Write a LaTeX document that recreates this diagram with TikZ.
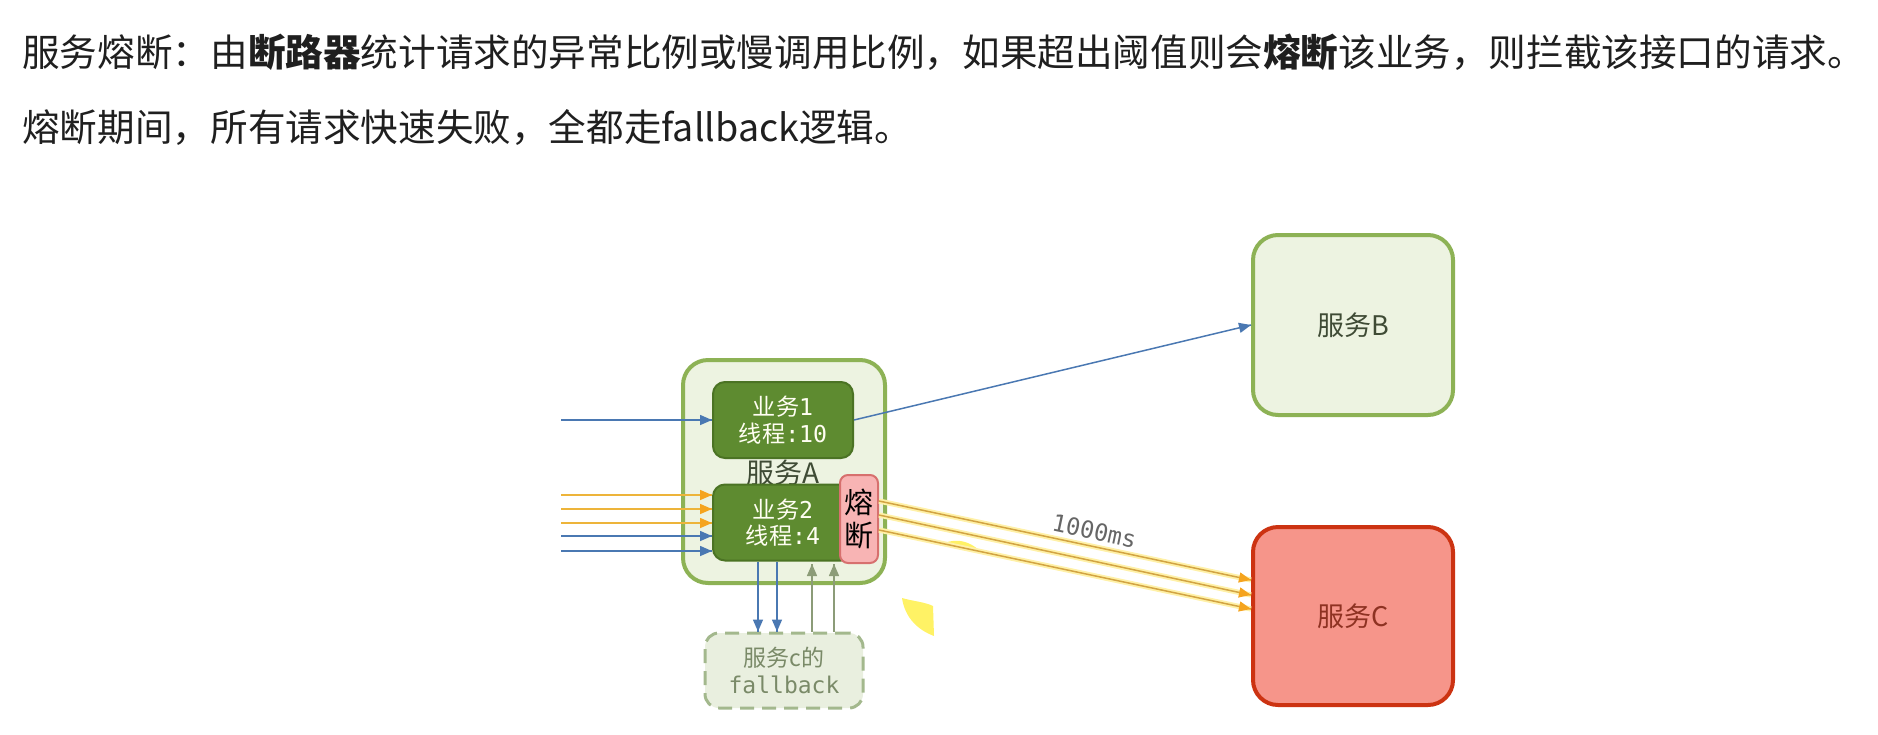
\documentclass[tikz,border=0pt]{standalone}
\usepackage{fontspec}
\setmainfont{Noto Sans CJK SC}
\setmonofont{DejaVu Sans Mono}
\usepackage{tikz}
\usetikzlibrary{arrows.meta,calc,decorations.markings}

\definecolor{svcborder}{HTML}{8DB255}
\definecolor{svcfill}{HTML}{EDF3E1}
\definecolor{svctext}{HTML}{3F4B35}
\definecolor{bizfill}{HTML}{5E8B30}
\definecolor{bizborder}{HTML}{4B7324}
\definecolor{fusefill}{HTML}{F8B4B4}
\definecolor{fuseborder}{HTML}{D7706E}
\definecolor{downfill}{HTML}{F6958A}
\definecolor{downborder}{HTML}{CC3312}
\definecolor{downtext}{HTML}{8E3222}
\definecolor{fbborder}{HTML}{A3B88D}
\definecolor{fbfill}{HTML}{E9EFDF}
\definecolor{fbtext}{HTML}{7A8A68}
\definecolor{reqblue}{HTML}{4A78B2}
\definecolor{reqyellow}{HTML}{EDB43A}
\definecolor{slowline}{HTML}{D2A443}
\definecolor{tipyellow}{HTML}{F5A41E}
\definecolor{glowyellow}{HTML}{FFF1A8}
\definecolor{backgreen}{HTML}{8C9C78}
\definecolor{labelgrey}{HTML}{666666}
\definecolor{spotyellow}{HTML}{FFF04A}

\begin{document}
\begin{tikzpicture}[x=0.5pt,y=-0.5pt,
  headline/.style={anchor=west,inner sep=0pt,text=black!88,
    font=\fontsize{18.8}{22}\selectfont},
  svc/.style={draw=svcborder,fill=svcfill,line width=2pt,rounded corners=12.5pt,
    minimum width=100pt,minimum height=90pt,text=svctext,
    font=\fontsize{13.5}{16}\selectfont},
  biz/.style={draw=bizborder,fill=bizfill,line width=1pt,rounded corners=6pt,
    minimum width=70pt,minimum height=38pt,inner sep=0pt,align=center,
    text=white!95!yellow,font=\fontsize{11.6}{13.2}\selectfont},
  fuse/.style={draw=fuseborder,fill=fusefill,line width=1pt,rounded corners=4pt,
    minimum width=19pt,minimum height=44pt,inner sep=0pt,align=center,
    font=\fontsize{14.5}{16.5}\selectfont},
  fallbackbox/.style={draw=fbborder,fill=fbfill,line width=1.5pt,
    dash pattern=on 7pt off 4pt,rounded corners=7pt,
    minimum width=79pt,minimum height=37.5pt,inner sep=0pt,align=center,
    text=fbtext,font=\fontsize{11.5}{13.5}\selectfont},
  arr/.style={draw=#1,line width=0.75pt,
    decoration={markings,mark=at position 1 with {\arrow[#1]{Triangle[length=6pt,width=5pt]}}},
    postaction={decorate}},
  yarr/.style={draw=reqyellow,line width=0.75pt,
    decoration={markings,mark=at position 1 with {\arrow[tipyellow]{Triangle[length=6pt,width=5pt]}}},
    postaction={decorate}},
  glow/.style={draw=slowline,preaction={draw=glowyellow,line width=2.6pt}}
  ]
\useasboundingbox (0,0) rectangle (1878,734);

% header text
\node[headline] (line1) at (22,52)
  {服务熔断：由\textbf{断路器}统计请求的异常比例或慢调用比例，如果超出阈值则会\textbf{熔断}该业务，则拦截该接口的请求。};
\node[headline] (line2) at (22,128)
  {熔断期间，所有请求快速失败，全都走fallback逻辑。};

% yellow spots
\fill[spotyellow,opacity=0.85] (902,598) .. controls (905,618) and (918,630) .. (934,636)
  -- (933,606) .. controls (925,602) and (912,601) .. cycle;
\fill[spotyellow,opacity=0.85] (940,546) .. controls (950,538) and (968,538) .. (982,553)
  .. controls (968,546) and (955,543) .. cycle;

% services
\node[svc,minimum width=101pt,minimum height=111.5pt] (svcA) at (784,471.5) {};
\node[biz] (biz1) at (783,420) {业务{\ttfamily 1}\\线程{\ttfamily :10}};
\node[text=svctext,font=\fontsize{14}{16}\selectfont] (labA) at (783,473) {服务A};
\node[biz] (biz2) at (783,522.5) {业务{\ttfamily 2}\\线程{\ttfamily :4}};
\node[fuse] (fuse) at (859,519) {熔\\断};

\node[svc] (svcB) at (1353,325) {服务B};
\node[svc,draw=downborder,fill=downfill,text=downtext,minimum height=89pt] (svcC) at (1353,616) {服务C};

\node[fallbackbox] (fb) at (784,670.5) {服务c的\\{\ttfamily fallback}};

% incoming requests
\coordinate (in0) at (561,420);
\draw[arr=reqblue] (in0) -- (biz1.west);
\foreach \y in {495,509,523}
  \draw[yarr] (561,\y) coordinate (iny) -- (iny -| biz2.west);
\foreach \y in {536,551}
  \draw[arr=reqblue] (561,\y) coordinate (inb) -- (inb -| biz2.west);

% calls to B and C
\draw[arr=reqblue] (biz1.east) -- (svcB.west);
\draw[yarr,glow] ($(fuse.east)+(0,-18)$) -- ($(svcC.west)+(0,-36)$)
  node[pos=0.57,sloped,above,inner sep=3pt,text=labelgrey,
    font=\ttfamily\fontsize{11.8}{14}\selectfont] (delay) {1000ms};
\draw[yarr,glow] ($(fuse.east)+(0,-4)$) -- ($(svcC.west)+(0,-21)$);
\draw[yarr,glow] ($(fuse.east)+(0,11)$) -- ($(svcC.west)+(0,-7)$);

% fallback
\foreach \dx in {-25,-6}
  \draw[arr=reqblue] ($(biz2.south)+(\dx,0)$) coordinate (dn) -- (dn |- fb.north);
\foreach \dx in {28,50}
  \draw[arr=backgreen] ($(fb.north)+(\dx,0)$) coordinate (up) -- (up |- fuse.south);
\end{tikzpicture}
\end{document}
